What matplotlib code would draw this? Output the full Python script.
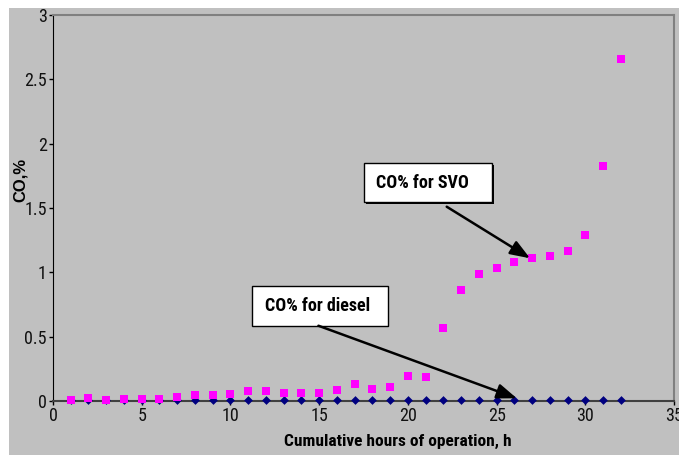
import matplotlib
matplotlib.use("Agg")
import matplotlib.pyplot as plt
import matplotlib.transforms as mt
from matplotlib.patches import Rectangle

hours = list(range(1, 33))
co_svo = [0.01, 0.02, 0.01, 0.018, 0.018, 0.018, 0.034, 0.047, 0.047, 0.057,
          0.075, 0.075, 0.065, 0.065, 0.065, 0.083, 0.13, 0.093, 0.11, 0.194,
          0.184, 0.567, 0.865, 0.984, 1.036, 1.083, 1.109, 1.127, 1.166, 1.292,
          1.826, 2.66]
co_diesel = [0.005] * 32
x_ticks = [0, 5, 10, 15, 20, 25, 30, 35]
y_ticks = [0, 0.5, 1, 1.5, 2, 2.5, 3]
y_ticklabels = ["0", "0.5", "1", "1.5", "2", "2.5", "3"]

COND = ["Roboto Condensed", "DejaVu Sans"]
W, H = 679, 455
fig = plt.figure(figsize=(W / 100, H / 100), dpi=100)
fig.patch.set_facecolor("white")
fig.patches.append(Rectangle((9 / W, 0), 1 - 9 / W, 1 - 8 / H, transform=fig.transFigure,
                             facecolor="#c0c0c0", edgecolor="none", zorder=-5))

ax = fig.add_axes([53 / W, 1 - 401 / H, (674 - 53) / W, (401 - 15) / H])
ax.set_zorder(2)
ax.set_facecolor("#c0c0c0")
ax.set_xlim(0, 35)
ax.set_ylim(0, 3)

ax.scatter(hours, co_diesel, marker="D", s=20, color="#000080", zorder=3, linewidths=0,
           clip_on=False)
ax.scatter(hours, co_svo, marker="s", s=36, color="#ff00ff", zorder=4, linewidths=0,
           clip_on=False)

for s in ["top", "right"]:
    ax.spines[s].set_color("#808080")
    ax.spines[s].set_linewidth(1.5)
ax.spines["left"].set_color("black")
ax.spines["bottom"].set_color("#404040")
ax.spines["bottom"].set_linewidth(1.5)

ax.set_xticks(x_ticks)
ax.set_yticks(y_ticks)
ax.set_yticklabels(y_ticklabels)
ax.tick_params(axis="both", direction="out", length=3, width=1, colors="black",
               labelsize=13, pad=1.5)
for lab in ax.get_xticklabels() + ax.get_yticklabels():
    lab.set_family(COND)
    lab.set_color("#111111")

ax.set_xlabel("Cumulative hours of operation, h", fontsize=12.5, fontweight="bold",
              family=COND)
ax.xaxis.set_label_coords((398 - 53) / (674 - 53), -(441 - 401) / (401 - 15))
ax.xaxis.label.set_va("center")
ax.set_ylabel("CO,%", fontsize=12, fontweight="bold", family=["Liberation Sans", "DejaVu Sans"])
ax.yaxis.set_label_coords(-(53 - 20) / (674 - 53), (401 - 180) / (401 - 15))
ax.yaxis.label.set_va("center")


def label_box(x0, x1, y0, y1, tx, ty, text):
    shadow = Rectangle((x0, y0), x1 - x0, y1 - y0, facecolor="black", edgecolor="none",
                       zorder=5)
    shadow.set_transform(ax.transData + mt.ScaledTranslation(1.5 / 100, -1.5 / 100,
                                                             fig.dpi_scale_trans))
    ax.add_patch(shadow)
    ax.add_patch(Rectangle((x0, y0), x1 - x0, y1 - y0, facecolor="white",
                           edgecolor="black", lw=1.0, zorder=6))
    ax.text(tx, ty, text, fontsize=13, fontweight="bold", family=COND,
            ha="left", va="center", zorder=7)


label_box(17.53, 24.75, 1.546, 1.849, 18.2, 1.694, "CO% for SVO")
label_box(11.22, 18.88, 0.583, 0.894, 11.95, 0.741, "CO% for diesel")

arrow = dict(arrowstyle="-|>,head_length=1.2,head_width=0.45", color="black", lw=1.8,
             shrinkA=0, shrinkB=0)
ax.annotate("", xy=(26.89, 1.109), xytext=(22.19, 1.510), arrowprops=arrow, zorder=6)
ax.annotate("", xy=(26.14, 0.021), xytext=(14.96, 0.585), arrowprops=arrow, zorder=6)

fig.savefig("out.png", dpi=100, facecolor=fig.get_facecolor())
